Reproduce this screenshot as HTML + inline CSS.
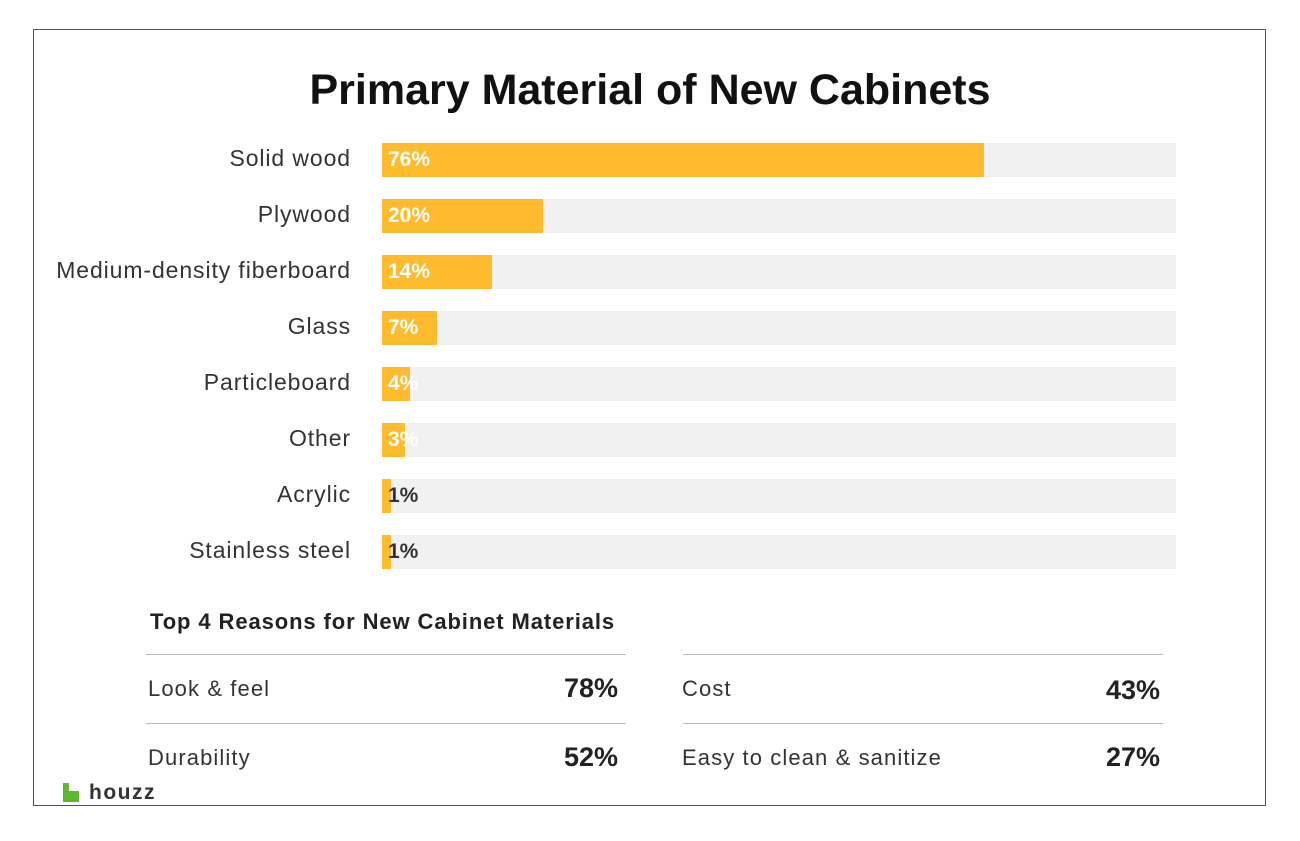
<!DOCTYPE html>
<html><head><style>
body{margin:0;background:#fff;width:1300px;height:841px;position:relative;font-family:"Liberation Sans",sans-serif;overflow:hidden}
.frame{position:absolute;left:33px;top:29px;width:1231px;height:775px;border:1px solid #555}
.t{position:absolute;white-space:nowrap}
.title{left:0;width:1300px;text-align:center;top:66px;font-size:43px;color:#111;font-weight:bold}
.lab{right:949px;font-size:23px;color:#333;letter-spacing:0.9px}
.track{position:absolute;left:382px;width:794px;height:34px;background:#f1f1f1}
.bar{position:absolute;left:0;top:0;height:34px;background:#fdbb2d}
.val{position:absolute;left:6px;top:5px;font-size:21px;font-weight:bold;color:#fff}
.dark{color:#333}
.hl{position:absolute;height:1px;background:#bbb}
.rl{font-size:22px;color:#333;letter-spacing:1.1px}
.rv{font-size:27px;font-weight:bold;color:#222;text-align:right}
</style></head><body>
<div class="frame"></div>
<div class="t title">Primary Material of New Cabinets</div>

<div class="t lab" style="top:145px">Solid wood</div>
<div class="track" style="top:143px"><div class="bar" style="width:602px"></div><div class="val">76%</div></div>
<div class="t lab" style="top:201px">Plywood</div>
<div class="track" style="top:199px"><div class="bar" style="width:161px"></div><div class="val">20%</div></div>
<div class="t lab" style="top:257px">Medium-density fiberboard</div>
<div class="track" style="top:255px"><div class="bar" style="width:110px"></div><div class="val">14%</div></div>
<div class="t lab" style="top:313px">Glass</div>
<div class="track" style="top:311px"><div class="bar" style="width:55px"></div><div class="val">7%</div></div>
<div class="t lab" style="top:369px">Particleboard</div>
<div class="track" style="top:367px"><div class="bar" style="width:28px"></div><div class="val">4%</div></div>
<div class="t lab" style="top:425px">Other</div>
<div class="track" style="top:423px"><div class="bar" style="width:23px"></div><div class="val">3%</div></div>
<div class="t lab" style="top:481px">Acrylic</div>
<div class="track" style="top:479px"><div class="bar" style="width:9px"></div><div class="val dark">1%</div></div>
<div class="t lab" style="top:537px">Stainless steel</div>
<div class="track" style="top:535px"><div class="bar" style="width:9px"></div><div class="val dark">1%</div></div>

<div class="t" style="left:150px;top:609px;font-size:22px;font-weight:bold;color:#222;letter-spacing:0.9px">Top 4 Reasons for New Cabinet Materials</div>
<div class="hl" style="left:146px;width:480px;top:654px"></div>
<div class="hl" style="left:683px;width:480px;top:654px"></div>
<div class="hl" style="left:146px;width:480px;top:723px"></div>
<div class="hl" style="left:683px;width:480px;top:723px"></div>
<div class="t rl" style="left:148px;top:676px">Look &amp; feel</div>
<div class="t rv" style="right:682px;top:673px">78%</div>
<div class="t rl" style="left:682px;top:676px">Cost</div>
<div class="t rv" style="right:140px;top:675px">43%</div>
<div class="t rl" style="left:148px;top:745px">Durability</div>
<div class="t rv" style="right:682px;top:742px">52%</div>
<div class="t rl" style="left:682px;top:745px">Easy to clean &amp; sanitize</div>
<div class="t rv" style="right:140px;top:742px">27%</div>

<div style="position:absolute;left:63px;top:783px;width:6px;height:19px;background:#5cb82e"></div>
<div style="position:absolute;left:69px;top:791px;width:10px;height:11px;background:#5cb82e"></div>
<div class="t" style="left:89px;top:781px;font-size:21px;font-weight:bold;color:#333;letter-spacing:1.5px">houzz</div>
</body></html>
